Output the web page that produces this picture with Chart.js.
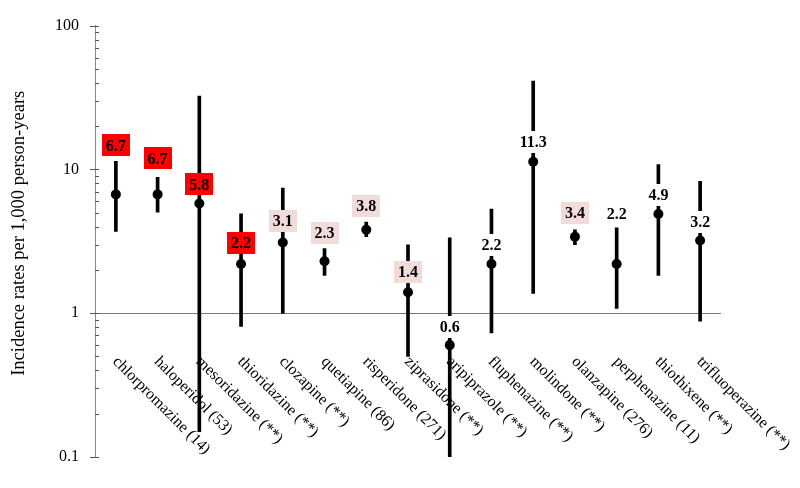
<!DOCTYPE html>
<html>
<head>
<meta charset="utf-8">
<script src="https://cdn.jsdelivr.net/npm/chart.js@4"></script>
<style>
  html, body { margin: 0; padding: 0; background: #ffffff; }
  #wrap { width: 800px; height: 488px; }
</style>
</head>
<body>
<div id="wrap"><canvas id="c" width="800" height="488"></canvas></div>
<script>
// ---- data ----
const categories = [
  'chlorpromazine (14)', 'haloperidol (53)', 'mesoridazine (**)', 'thioridazine (**)',
  'clozapine (**)', 'quetiapine (86)', 'risperidone (271)', 'ziprasidone (**)',
  'aripiprazole (**)', 'fluphenazine (**)', 'molindone (**)', 'olanzapine (276)',
  'perphenazine (11)', 'thiothixene (**)', 'trifluoperazine (**)'
];
const rates   = [6.7, 6.7, 5.8, 2.2, 3.1, 2.3, 3.8, 1.4, 0.6, 2.2, 11.3, 3.4, 2.2, 4.9, 3.2];
const ciLow   = [3.7, 5.05, 0.15, 0.81, 1.0, 1.83, 3.4, 0.5, 0.1, 0.73, 1.37, 3.0, 1.08, 1.83, 0.88];
const ciHigh  = [11.4, 8.8, 32.4, 4.9, 7.4, 2.81, 4.31, 2.99, 3.34, 5.3, 41.1, 3.8, 3.92, 10.8, 8.27];
const highlight = ['red', 'red', 'red', 'red', 'pink', 'pink', 'pink', 'pink', 'none', 'none', 'none', 'pink', 'none', 'none', 'none'];
const yTickLabels = ['0.1', '1', '10', '100'];
const yTitle = 'Incidence rates per 1,000 person-years';

// ---- styles ----
const boxColors = { red: '#ff0000', pink: '#f2dcdb', none: '#ffffff' };
const labelLift = [49, 36, 19, 21, 22, 28, 24, 20, 18, 19, 20, 24, 50, 19, 19];
const serif = "'Liberation Serif', 'Times New Roman', serif";

const valueLabels = {
  id: 'valueLabels',
  afterDatasetsDraw(chart) {
    const ctx = chart.ctx, xs = chart.scales.x, ys = chart.scales.y;
    ctx.save();
    ctx.font = 'bold 16px ' + serif;
    ctx.textAlign = 'center';
    ctx.textBaseline = 'middle';
    rates.forEach((v, i) => {
      const x = xs.getPixelForValue(i);
      const y = ys.getPixelForValue(v) - labelLift[i];
      const txt = v.toFixed(1);
      const w = ctx.measureText(txt).width + 8;
      const h = 22;
      ctx.fillStyle = boxColors[highlight[i]];
      ctx.fillRect(Math.round(x - w / 2), Math.round(y - h / 2), Math.round(w), h);
      ctx.fillStyle = '#000';
      ctx.fillText(txt, x, y + 1);
    });
    ctx.restore();
  }
};

const catLabels = {
  id: 'catLabels',
  beforeDatasetsDraw(chart) {
    const ctx = chart.ctx, xs = chart.scales.x, ys = chart.scales.y;
    const base = ys.getPixelForValue(1) + 46;
    ctx.save();
    ctx.font = '16px ' + serif;
    ctx.fillStyle = '#000';
    ctx.textAlign = 'left';
    ctx.textBaseline = 'middle';
    categories.forEach((c, i) => {
      const x = xs.getPixelForValue(i) - 1;
      ctx.save();
      ctx.translate(x, base);
      ctx.rotate(Math.PI / 4);
      ctx.fillText(c, 0, 0);
      ctx.restore();
    });
    ctx.restore();
  }
};

const yDecor = {
  id: 'yDecor',
  afterDraw(chart) {
    const ctx = chart.ctx, ys = chart.scales.y, area = chart.chartArea;
    const left = area.left;
    ctx.save();
    ctx.strokeStyle = '#555';
    ctx.lineWidth = 1;
    ys.ticks.forEach(t => {
      const p = Math.round(ys.getPixelForValue(t.value)) + 0.5;
      const lg = Math.log10(t.value);
      const major = Math.abs(lg - Math.round(lg)) < 1e-9;
      ctx.beginPath();
      ctx.moveTo(major ? left - 5 : left, p);
      ctx.lineTo(left + 4, p);
      ctx.stroke();
    });
    // axis title
    ctx.font = '18.5px ' + serif;
    ctx.fillStyle = '#000';
    ctx.textAlign = 'center';
    ctx.textBaseline = 'middle';
    ctx.translate(19, (area.top + area.bottom) / 2 - 8);
    ctx.rotate(-Math.PI / 2);
    ctx.fillText(yTitle, 0, 0);
    ctx.restore();
  }
};

new Chart(document.getElementById('c'), {
  type: 'bar',
  data: {
    labels: categories,
    datasets: [
      {
        type: 'line',
        data: rates,
        showLine: false,
        pointRadius: 5,
        pointHoverRadius: 5,
        pointBorderWidth: 0,
        pointBackgroundColor: '#000',
        pointBorderColor: '#000',
        borderColor: '#000',
        order: 0
      },
      {
        type: 'bar',
        data: ciLow.map((l, i) => [l, ciHigh[i]]),
        backgroundColor: '#000',
        borderWidth: 0,
        barThickness: 3,
        order: 1
      }
    ]
  },
  options: {
    responsive: false,
    animation: false,
    events: [],
    layout: { padding: { left: 0, right: 79, top: 21, bottom: 31 } },
    plugins: { legend: { display: false }, tooltip: { enabled: false } },
    scales: {
      x: { type: 'category', display: false, offset: true },
      y: {
        type: 'logarithmic',
        min: 0.1,
        max: 100,
        afterBuildTicks(scale) {
          const t = [];
          [0.1, 1, 10].forEach(d => { for (let m = 1; m <= 9; m++) t.push({ value: +(d * m).toPrecision(3) }); });
          t.push({ value: 100 });
          scale.ticks = t;
        },
        afterFit(scale) { scale.width = 95; },
        ticks: {
          autoSkip: false,
          padding: 16,
          color: '#000',
          font: { family: serif, size: 16 },
          callback(v) {
            const lg = Math.log10(v);
            if (Math.abs(lg - Math.round(lg)) < 1e-9) return yTickLabels[Math.round(lg) + 1];
            return '';
          }
        },
        grid: {
          display: true,
          drawTicks: false,
          drawOnChartArea: true,
          color: c => (c.tick && c.tick.value === 1 ? '#7a7a7a' : 'rgba(0,0,0,0)'),
          lineWidth: 1
        },
        border: { display: true, color: '#8a8a8a', width: 1 },
        title: { display: false }
      }
    }
  },
  plugins: [catLabels, valueLabels, yDecor]
});
</script>
</body>
</html>
